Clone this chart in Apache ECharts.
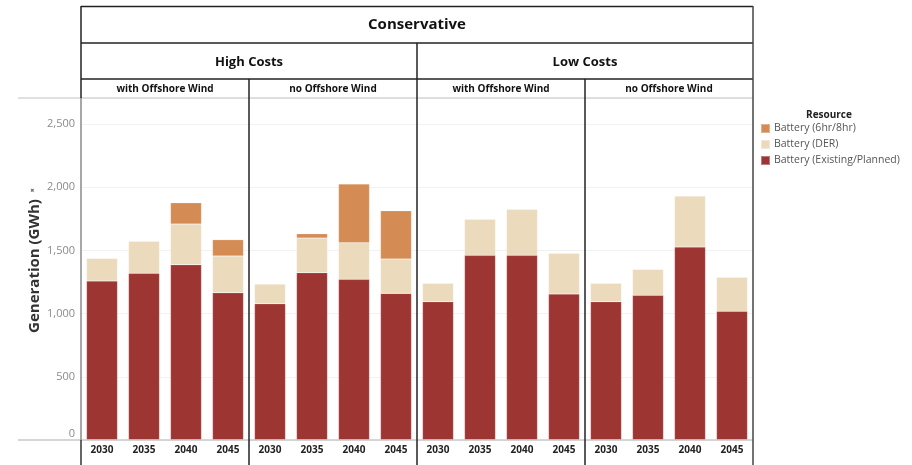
<!DOCTYPE html>
<html>
<head>
<meta charset="utf-8">
<script src="https://cdn.jsdelivr.net/npm/echarts@6/dist/echarts.min.js"></script>
<style>html,body{margin:0;padding:0;background:#fff;}#c{width:912px;height:465px;}</style>
</head>
<body>
<div id="c"></div>
<script>
const title = 'Conservative';
const costGroups = ['High Costs', 'Low Costs'];
const windGroups = ['with Offshore Wind', 'no Offshore Wind', 'with Offshore Wind', 'no Offshore Wind'];
const years = ['2030', '2035', '2040', '2045'];
const seriesNames = ['Battery (Existing/Planned)', 'Battery (DER)', 'Battery (6hr/8hr)'];
const legendOrder = ['Battery (6hr/8hr)', 'Battery (DER)', 'Battery (Existing/Planned)'];
const yTicks = [0, 500, 1000, 1500, 2000, 2500];
// values per panel (HC+OSW, HC noOSW, LC+OSW, LC noOSW), per year
const existingPlanned = [
  [1258, 1319, 1387, 1165],
  [1078, 1324, 1271, 1160],
  [1094, 1461, 1461, 1155],
  [1094, 1145, 1527, 1018]
];
const der = [
  [179, 253, 322, 291],
  [156, 274, 290, 272],
  [146, 285, 364, 322],
  [146, 205, 403, 269]
];
const battery6hr8hr = [
  [4, 4, 168, 129],
  [4, 34, 464, 382],
  [4, 4, 4, 4],
  [4, 4, 4, 4]
];

const colors = {
  'Battery (Existing/Planned)': '#9d3532',
  'Battery (DER)': '#ecdabd',
  'Battery (6hr/8hr)': '#d48b54'
};
const dataBySeries = {
  'Battery (Existing/Planned)': existingPlanned,
  'Battery (DER)': der,
  'Battery (6hr/8hr)': battery6hr8hr
};

const X0 = 81, PW = 168, TOP = 98, BOT = 440;
const FONT = '"Open Sans", "Noto Sans", sans-serif';

const grids = [], xAxes = [], yAxes = [], series = [];
for (let i = 0; i < 4; i++) {
  grids.push({ left: X0 + i * PW, width: PW, top: TOP, height: BOT - TOP });
  xAxes.push({
    type: 'category', gridIndex: i, data: years,
    axisLine: { show: false }, axisTick: { show: false },
    axisLabel: { color: '#222', fontWeight: 'bold', fontSize: 10, fontFamily: FONT, margin: 5 }
  });
  yAxes.push({
    type: 'value', gridIndex: i, min: 0, max: 2706, interval: 500,
    axisLine: { show: false }, axisTick: { show: false },
    axisLabel: {
      show: i === 0, color: '#8a8a8a', fontSize: 11, fontFamily: FONT, margin: 6, showMaxLabel: false,
      formatter: v => v === 0 ? '{z|0}' : (yTicks.includes(v) ? v.toLocaleString('en-US') : ''),
      rich: { z: { color: '#8a8a8a', fontSize: 11, fontFamily: FONT, padding: [0, 0, 13, 0] } }
    },
    splitLine: { show: true, lineStyle: { color: '#f2f2f2', width: 1 } }
  });
  seriesNames.forEach(name => {
    series.push({
      name: name, type: 'bar', stack: 'p' + i, xAxisIndex: i, yAxisIndex: i,
      barWidth: 31,
      itemStyle: { color: colors[name], borderColor: 'rgba(255,255,255,0.35)', borderWidth: 0.5 },
      data: dataBySeries[name][i]
    });
  });
}

const g = [];
function line(x1, y1, x2, y2, color, w) {
  g.push({ type: 'line', z: 100, shape: { x1, y1, x2, y2 }, style: { stroke: color, lineWidth: w || 1 } });
}
function text(x, y, t, size, weight, color, align) {
  g.push({ type: 'text', z: 100, x: x, y: y, style: { text: t, fontSize: size, fontWeight: weight || 'normal', fill: color || '#111', fontFamily: FONT, align: align || 'center', verticalAlign: 'middle' } });
}
const R = X0 + 4 * PW;
// header lines
line(X0, 6.5, R, 6.5, '#222', 1.5);
line(X0, 43, R, 43, '#222', 1.5);
line(X0, 79, R, 79, '#222', 1.5);
line(18, 98, R, 98, '#d6d6d6', 1.5);
line(18, 440, R, 440, '#c8c8c8', 1.5);
// verticals
line(X0, 6, X0, 98, '#222', 1.5);
line(X0, 98, X0, 440, '#8a8a8a', 1.5);
line(X0, 440, X0, 465, '#333', 1.5);
line(X0 + PW, 79, X0 + PW, 465, '#222', 1.5);
line(X0 + 2 * PW, 43, X0 + 2 * PW, 465, '#222', 1.5);
line(X0 + 3 * PW, 79, X0 + 3 * PW, 465, '#222', 1.5);
line(R, 6, R, 465, '#444', 1.5);
// header texts
text((X0 + R) / 2, 25, title, 15, 'bold', '#111');
costGroups.forEach((c, k) => text(X0 + PW * (2 * k + 1), 62, c, 13, 'bold', '#111'));
windGroups.forEach((w, k) => text(X0 + PW * k + PW / 2, 89, w, 10, 'bold', '#111'));
// y axis title
g.push({ type: 'text', z: 100, x: 35, y: 266, rotation: Math.PI / 2,
  style: { text: 'Generation (GWh)', fontSize: 15, fontWeight: 'bold', fill: '#333', fontFamily: FONT, align: 'center', verticalAlign: 'middle' } });
g.push({ type: 'text', z: 100, x: 33, y: 191, rotation: Math.PI / 4,
  style: { text: '✦', fontSize: 8, fill: '#777', fontFamily: 'DejaVu Sans', align: 'center', verticalAlign: 'middle' } });
// legend title
text(829, 115, 'Resource', 10, 'bold', '#222');

const chart = echarts.init(document.getElementById('c'), null, { renderer: 'canvas' });
chart.setOption({
  animation: false,
  backgroundColor: '#fff',
  grid: grids, xAxis: xAxes, yAxis: yAxes, series: series,
  legend: {
    data: legendOrder, orient: 'vertical', left: 760, top: 123, padding: 0,
    itemWidth: 9, itemHeight: 9, itemGap: 5, icon: 'rect',
    textStyle: { color: '#555', fontSize: 10.5, fontFamily: FONT, padding: [0, 0, 0, -1] },
    selectedMode: false
  },
  graphic: g
});
</script>
</body>
</html>
